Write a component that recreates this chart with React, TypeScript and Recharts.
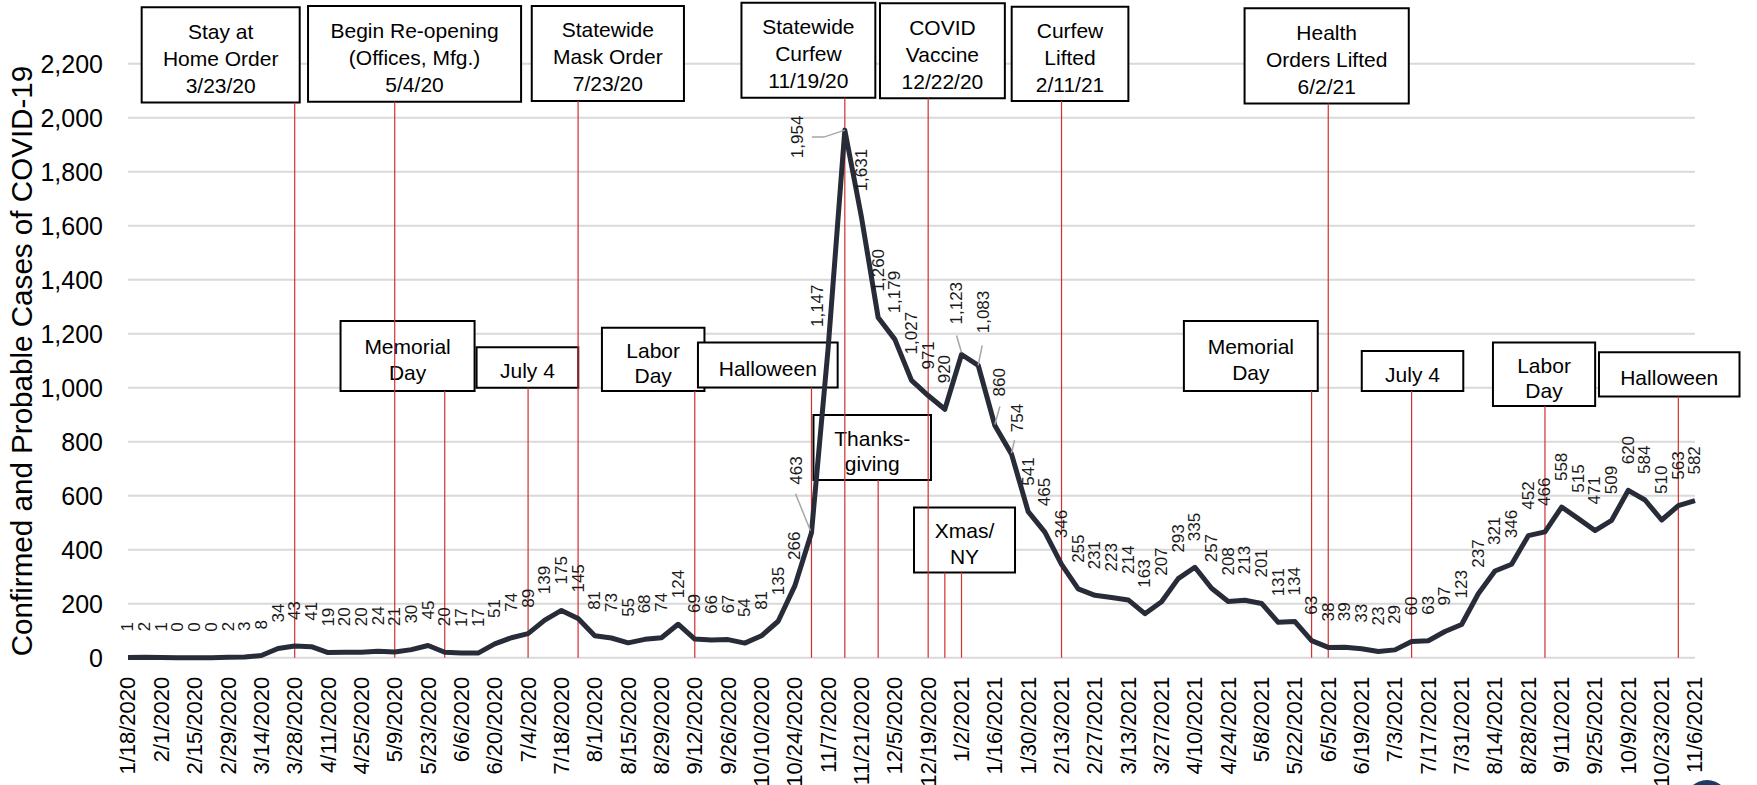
import React from 'react';
import { LineChart, Line, XAxis, YAxis, CartesianGrid, ReferenceLine, ReferenceArea } from 'recharts';

const FONT = "'Liberation Sans', Arial, Helvetica, sans-serif";

// Weekly categories (week ending)
const weeks = [
  '1/18/2020', '1/25/2020', '2/1/2020', '2/8/2020', '2/15/2020', '2/22/2020', '2/29/2020', '3/7/2020', '3/14/2020', '3/21/2020',
  '3/28/2020', '4/4/2020', '4/11/2020', '4/18/2020', '4/25/2020', '5/2/2020', '5/9/2020', '5/16/2020', '5/23/2020', '5/30/2020',
  '6/6/2020', '6/13/2020', '6/20/2020', '6/27/2020', '7/4/2020', '7/11/2020', '7/18/2020', '7/25/2020', '8/1/2020', '8/8/2020',
  '8/15/2020', '8/22/2020', '8/29/2020', '9/5/2020', '9/12/2020', '9/19/2020', '9/26/2020', '10/3/2020', '10/10/2020', '10/17/2020',
  '10/24/2020', '10/31/2020', '11/7/2020', '11/14/2020', '11/21/2020', '11/28/2020', '12/5/2020', '12/12/2020', '12/19/2020', '12/26/2020',
  '1/2/2021', '1/9/2021', '1/16/2021', '1/23/2021', '1/30/2021', '2/6/2021', '2/13/2021', '2/20/2021', '2/27/2021', '3/6/2021',
  '3/13/2021', '3/20/2021', '3/27/2021', '4/3/2021', '4/10/2021', '4/17/2021', '4/24/2021', '5/1/2021', '5/8/2021', '5/15/2021',
  '5/22/2021', '5/29/2021', '6/5/2021', '6/12/2021', '6/19/2021', '6/26/2021', '7/3/2021', '7/10/2021', '7/17/2021', '7/24/2021',
  '7/31/2021', '8/7/2021', '8/14/2021', '8/21/2021', '8/28/2021', '9/4/2021', '9/11/2021', '9/18/2021', '9/25/2021', '10/2/2021',
  '10/9/2021', '10/16/2021', '10/23/2021', '10/30/2021', '11/6/2021',
];

const cases = [
  1, 2, 1, 0, 0, 0, 2, 3, 8, 34,
  43, 41, 19, 20, 20, 24, 21, 30, 45, 20,
  17, 17, 51, 74, 89, 139, 175, 145, 81, 73,
  55, 68, 74, 124, 69, 66, 67, 54, 81, 135,
  266, 463, 1147, 1954, 1631, 1260, 1179, 1027, 971, 920,
  1123, 1083, 860, 754, 541, 465, 346, 255, 231, 223,
  214, 163, 207, 293, 335, 257, 208, 213, 201, 131,
  134, 63, 38, 39, 33, 23, 29, 60, 63, 97,
  123, 237, 321, 346, 452, 466, 558, 515, 471, 509,
  620, 584, 510, 563, 582,
];

const tickLabels = [
  '1/18/2020', '2/1/2020', '2/15/2020', '2/29/2020', '3/14/2020', '3/28/2020', '4/11/2020', '4/25/2020',
  '5/9/2020', '5/23/2020', '6/6/2020', '6/20/2020', '7/4/2020', '7/18/2020', '8/1/2020', '8/15/2020',
  '8/29/2020', '9/12/2020', '9/26/2020', '10/10/2020', '10/24/2020', '11/7/2020', '11/21/2020', '12/5/2020',
  '12/19/2020', '1/2/2021', '1/16/2021', '1/30/2021', '2/13/2021', '2/27/2021', '3/13/2021', '3/27/2021',
  '4/10/2021', '4/24/2021', '5/8/2021', '5/22/2021', '6/5/2021', '6/19/2021', '7/3/2021', '7/17/2021',
  '7/31/2021', '8/14/2021', '8/28/2021', '9/11/2021', '9/25/2021', '10/9/2021', '10/23/2021', '11/6/2021',
];

const yTicks = [0, 200, 400, 600, 800, 1000, 1200, 1400, 1600, 1800, 2000, 2200];

// Event annotations: text, box extent (week index / case units), marker week(s)
const annotations = [
  { lines: ['Stay at', 'Home Order', '3/23/20'], x1: 0.82, x2: 10.3, y1: 2056, y2: 2409, at: [10] },
  { lines: ['Begin Re-opening', '(Offices, Mfg.)', '5/4/20'], x1: 10.8, x2: 23.58, y1: 2059, y2: 2414, at: [16] },
  { lines: ['Statewide', 'Mask Order', '7/23/20'], x1: 24.22, x2: 33.35, y1: 2062, y2: 2414, at: [27] },
  { lines: ['Statewide', 'Curfew', '11/19/20'], x1: 36.8, x2: 44.83, y1: 2074, y2: 2426, at: [43] },
  { lines: ['COVID', 'Vaccine', '12/22/20'], x1: 45.11, x2: 52.6, y1: 2072, y2: 2424, at: [48] },
  { lines: ['Curfew', 'Lifted', '2/11/21'], x1: 53.01, x2: 60.01, y1: 2062, y2: 2411, at: [56] },
  { lines: ['Health', 'Orders Lifted', '6/2/21'], x1: 66.98, x2: 76.83, y1: 2053, y2: 2405, at: [72] },
  { lines: ['Memorial', 'Day'], x1: 12.75, x2: 20.79, y1: 988, y2: 1247, at: [19] },
  { lines: ['July 4'], x1: 20.91, x2: 27.01, y1: 1000, y2: 1150, at: [24] },
  { lines: ['Labor', 'Day'], x1: 28.43, x2: 34.58, y1: 988, y2: 1222, at: [34] },
  { lines: ['Halloween'], x1: 34.19, x2: 42.57, y1: 1001, y2: 1167, at: [41] },
  { lines: ['Thanks-', 'giving'], x1: 41.12, x2: 48.17, y1: 658, y2: 899, at: [45] },
  { lines: ['Xmas/', 'NY'], x1: 47.15, x2: 53.21, y1: 316, y2: 556, at: [49, 50] },
  { lines: ['Memorial', 'Day'], x1: 63.34, x2: 71.37, y1: 988, y2: 1247, at: [71] },
  { lines: ['July 4'], x1: 74.01, x2: 80.1, y1: 988, y2: 1136, at: [77] },
  { lines: ['Labor', 'Day'], x1: 81.88, x2: 88.01, y1: 932, y2: 1167, at: [85] },
  { lines: ['Halloween'], x1: 88.24, x2: 96.67, y1: 967, y2: 1131, at: [93] },
];

// Manually moved data labels (pixel offsets from default spot), with leader lines
const labelAdjust: Record<number, { dx: number; dy: number; leader?: number[][] }> = {
  41: { dx: -15, dy: -22, leader: [[-16, -39], [-1, -2]] },
  42: { dx: -11, dy: 5 },
  43: { dx: -47, dy: 54, leader: [[-33, 7], [-21, 7], [0, 0]] },
  50: { dx: -5, dy: -4, leader: [[-5, -19], [0, -2]] },
  51: { dx: 5, dy: -6, leader: [[4, -20], [0, 0]] },
  52: { dx: 5, dy: -3, leader: [[5, -19], [0, -1]] },
  53: { dx: 6, dy: 4, leader: [[3, -14], [0, -1]] },
};

const data = weeks.map((w, i) => ({ i, week: w, cases: cases[i] }));
const xTicks = tickLabels.map((_, k) => k * 2);

const XTick = (props: any) => {
  const { x, y, payload } = props;
  const label = tickLabels[Math.round(payload.value / 2)];
  const ty = y + 19;
  return (
    <text
      x={x}
      y={ty}
      transform={`rotate(-90 ${x} ${ty})`}
      textAnchor="end"
      dominantBaseline="central"
      fontSize={22}
      fontFamily={FONT}
      fill="#000"
    >
      {label}
    </text>
  );
};

const BoxLabel = (props: any) => {
  const { viewBox, lines } = props;
  if (!viewBox) return null;
  const { x, y, width, height } = viewBox;
  const cx = x + width / 2;
  const spacing = lines.length === 3 ? 27 : 25.5;
  const cy = y + height / 2 + 3.5;
  const start = cy - ((lines.length - 1) * spacing) / 2;
  return (
    <g>
      {lines.map((l: string, k: number) => (
        <text
          key={k}
          x={cx}
          y={start + k * spacing}
          textAnchor="middle"
          dominantBaseline="central"
          fontSize={21}
          fontFamily={FONT}
          fill="#000"
        >
          {l}
        </text>
      ))}
    </g>
  );
};

const renderDot = (p: any) => {
  const { cx, cy, index, payload } = p;
  if (cx == null || cy == null) return <g key={`l-${index}`} />;
  const adj = labelAdjust[index] || { dx: 0, dy: 0 };
  const tx = cx + adj.dx;
  const ty = cy - 26 + adj.dy;
  return (
    <g key={`l-${index}`}>
      {adj.leader && (
        <polyline
          points={adj.leader.map(([a, b]) => `${cx + a},${cy + b}`).join(' ')}
          fill="none"
          stroke="#a6a6a6"
          strokeWidth={1.5}
        />
      )}
      <text
        x={tx}
        y={ty}
        transform={`rotate(-90 ${tx} ${ty})`}
        textAnchor="start"
        dominantBaseline="central"
        fontSize={17}
        fontFamily={FONT}
        fill="#1a1a1a"
      >
        {Number(payload.cases).toLocaleString('en-US')}
      </text>
    </g>
  );
};

export default function App() {
  return (
    <div style={{ position: 'absolute', left: 0, top: 0, width: 1757, height: 785, overflow: 'hidden', background: '#fff' }}>
      <LineChart
        width={1757}
        height={785}
        data={data}
        margin={{ top: 63.7, right: 62, bottom: 0, left: 0 }}
      >
        <CartesianGrid vertical={false} stroke="#d9d9d9" strokeWidth={2} />
        <XAxis
          dataKey="i"
          type="number"
          domain={[0, 94]}
          ticks={xTicks}
          interval={0}
          axisLine={false}
          tickLine={false}
          tickSize={0}
          tickMargin={0}
          height={127.3}
          tick={<XTick />}
        />
        <YAxis
          type="number"
          domain={[0, 2200]}
          ticks={yTicks}
          width={128}
          axisLine={false}
          tickLine={false}
          tickSize={0}
          tickMargin={25}
          interval={0}
          tick={{ fontSize: 25, fill: '#000', fontFamily: FONT }}
          tickFormatter={(v: number) => v.toLocaleString('en-US')}
        />
        {annotations.flatMap((a, k) =>
          a.at.map((w) => (
            <ReferenceLine
              key={`rl-${k}-${w}`}
              segment={[{ x: w, y: 0 }, { x: w, y: a.y1 }]}
              stroke="#d42f2f"
              strokeWidth={1.2}
              ifOverflow="visible"
            />
          ))
        )}
        {annotations.map((a, k) => (
          <ReferenceArea
            key={`ra-${k}`}
            x1={a.x1}
            x2={a.x2}
            y1={a.y1}
            y2={a.y2}
            fill="#ffffff"
            fillOpacity={1}
            stroke="#000"
            strokeWidth={2}
            ifOverflow="visible"
            label={<BoxLabel lines={a.lines} />}
          />
        ))}
        <Line
          type="linear"
          dataKey="cases"
          stroke="#272c38"
          strokeWidth={5}
          strokeLinejoin="round"
          dot={renderDot}
          activeDot={false}
          isAnimationActive={false}
        />
      </LineChart>
      <div
        style={{
          position: 'absolute',
          left: 21.5,
          top: 361,
          transform: 'translate(-50%, -50%) rotate(-90deg)',
          whiteSpace: 'nowrap',
          fontSize: 29.6,
          fontFamily: FONT,
          color: '#000',
          lineHeight: 1,
        }}
      >
        Confirmed and Probable Cases of COVID-19
      </div>
      <div
        style={{
          position: 'absolute',
          left: 1685,
          top: 780,
          width: 44,
          height: 44,
          borderRadius: '50%',
          background: '#1f3864',
        }}
      />
    </div>
  );
}
